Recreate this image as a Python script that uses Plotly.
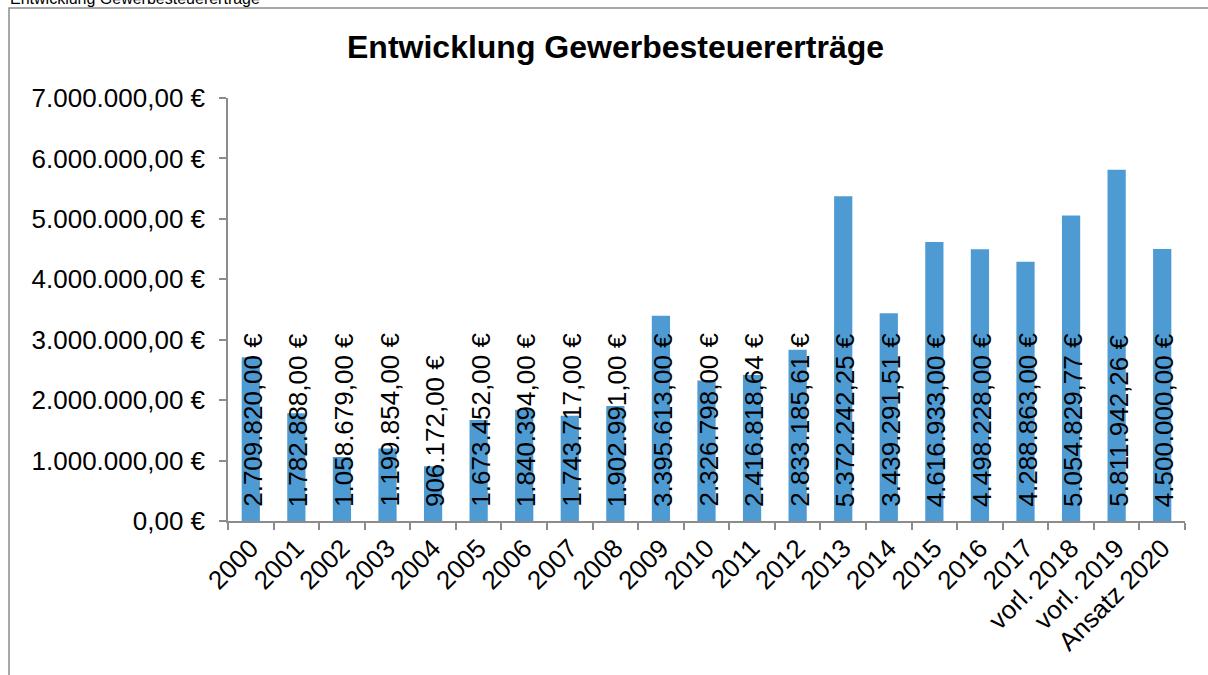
import plotly.graph_objects as go

# Gewerbesteuererträge je Jahr
categories = ["2000", "2001", "2002", "2003", "2004", "2005", "2006", "2007",
              "2008", "2009", "2010", "2011", "2012", "2013", "2014", "2015",
              "2016", "2017", "vorl. 2018", "vorl. 2019", "Ansatz 2020"]
values = [2709820.00, 1782888.00, 1058679.00, 1199854.00, 906172.00,
          1673452.00, 1840394.00, 1743717.00, 1902991.00, 3395613.00,
          2326798.00, 2416818.64, 2833185.61, 5372242.25, 3439291.51,
          4616933.00, 4498228.00, 4288863.00, 5054829.77, 5811942.26,
          4500000.00]
y_ticks = [0, 1000000, 2000000, 3000000, 4000000, 5000000, 6000000, 7000000]

TITLE = "Entwicklung Gewerbesteuererträge"
FONT = "Liberation Sans, Arial, sans-serif"
BAR_COLOR = "#4e9bd4"
AXIS_COLOR = "#8c8c8c"

W, H = 1208, 675
L, R, T, B = 228, 23, 98, 154


def euro(v):
    """German currency format: 1.234.567,89 €"""
    s = f"{v:,.2f}".replace(",", "X").replace(".", ",").replace("X", ".")
    return s + " €"


def px_x(p):
    return (p - L) / (W - L - R)


def px_y(p):
    return (H - B - p) / (H - T - B)


fig = go.Figure()
fig.add_trace(go.Bar(
    x=categories,
    y=values,
    width=0.4,
    marker=dict(color=BAR_COLOR, line=dict(width=0)),
    hoverinfo="skip",
))

# rotated data labels starting at the bar base (x by category index)
for i, v in enumerate(values):
    fig.add_annotation(
        x=i, y=0, xref="x", yref="y",
        text=euro(v), textangle=-90,
        showarrow=False, xanchor="center", yanchor="bottom",
        yshift=12, xshift=2,
        font=dict(family=FONT, size=26, color="black"),
    )

fig.add_annotation(
    x=px_x(615), y=px_y(47), xref="paper", yref="paper",
    xanchor="center", yanchor="middle", showarrow=False,
    text="<b>" + TITLE + "</b>",
    font=dict(family=FONT, size=32, color="black"),
)
# clipped caption above the chart frame
fig.add_annotation(
    x=px_x(8), y=px_y(-2), xref="paper", yref="paper",
    xanchor="left", yanchor="middle", showarrow=False,
    text=TITLE, font=dict(family=FONT, size=16, color="black"),
)

# chart frame
fig.add_shape(type="rect", xref="paper", yref="paper",
              x0=px_x(9), x1=px_x(1215), y0=px_y(690), y1=px_y(8),
              line=dict(color=AXIS_COLOR, width=1.5), layer="below")

fig.update_layout(
    width=W, height=H,
    margin=dict(l=L, r=R, t=T, b=B),
    paper_bgcolor="white", plot_bgcolor="white",
    showlegend=False,
    font=dict(family=FONT, size=26, color="black"),
    xaxis=dict(
        type="category", tickangle=-45, tickson="boundaries",
        ticks="outside", ticklen=7, tickcolor=AXIS_COLOR, tickwidth=1.5,
        showline=True, linecolor=AXIS_COLOR, linewidth=1.5,
        showgrid=False, tickfont=dict(size=26),
    ),
    yaxis=dict(
        range=[0, 7000000], tickvals=y_ticks,
        ticktext=[euro(t) for t in y_ticks],
        ticks="outside", ticklen=7, tickcolor=AXIS_COLOR, tickwidth=1.5,
        ticklabelstandoff=9,
        showline=True, linecolor=AXIS_COLOR, linewidth=1.5,
        showgrid=False, zeroline=False, tickfont=dict(size=26),
    ),
)

fig.write_html(
    "out.html",
    config={"displayModeBar": False},
    post_script="document.body.style.margin='0';document.body.style.overflow='hidden';",
)
